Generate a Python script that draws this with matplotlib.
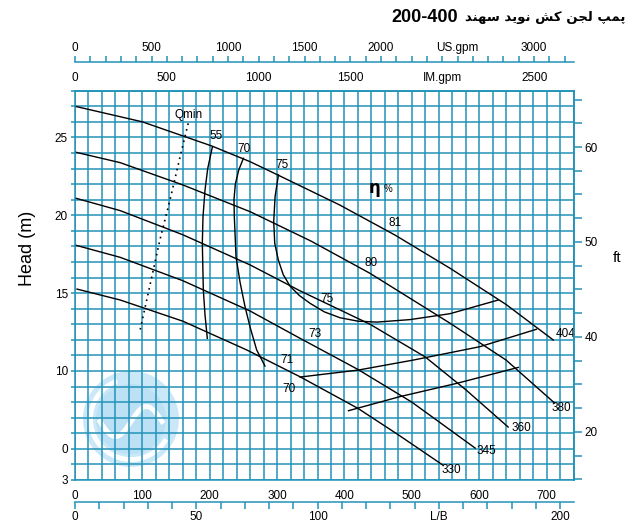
import numpy as np
import matplotlib
matplotlib.use("Agg")
import matplotlib.pyplot as plt
from matplotlib.patches import Circle, Arc

plt.rcParams['font.family'] = ['Liberation Sans', 'DejaVu Sans']

# ---- data (flow in m3/h, head in m) ----
q404 = [0, 100, 203, 260, 301, 393, 475, 557, 640, 710]
h404 = [27.0, 26.0, 24.45, 23.44, 22.59, 20.66, 18.73, 16.59, 14.27, 11.99]
q380 = [0, 67, 160, 260, 350, 438, 557, 640, 712]
h380 = [24.06, 23.38, 21.95, 20.23, 18.35, 16.27, 13.06, 10.7, 7.94]
q360 = [0, 67, 160, 260, 334, 438, 520, 580, 643]
h360 = [21.11, 20.3, 18.75, 16.81, 15.15, 13.0, 10.9, 8.8, 6.40]
q345 = [0, 67, 160, 260, 334, 420, 500, 594]
h345 = [18.09, 17.3, 15.8, 13.85, 12.1, 10.1, 8.0, 5.05]
q330 = [3, 67, 160, 255, 334, 420, 480, 546]
h330 = [15.26, 14.56, 13.2, 11.35, 9.63, 7.6, 5.9, 3.96]
heads = [(q404, h404, '404'), (q380, h380, '380'), (q360, h360, '360'),
         (q345, h345, '345'), (q330, h330, '330')]
head_lbl = {'404': (728, 12.35), '380': (722, 7.6), '360': (663, 6.36),
            '345': (611, 4.88), '330': (559, 3.64)}

# efficiency lines
e55_q = [204, 197, 193, 190, 189, 190.5, 193, 196.4]
e55_h = [24.40, 23.0, 21.62, 19.9, 18.20, 15.20, 13.6, 12.10]
e55r_q = [406, 482, 567, 658]
e55r_h = [7.45, 8.35, 9.21, 10.23]
e70_q = [250, 243, 238, 236, 236.5, 239, 245, 252.4, 260, 269.7, 282]
e70_h = [23.66, 22.9, 22.0, 21.0, 19.91, 17.34, 15.7, 14.13, 12.8, 11.35, 10.32]
e70r_q = [334, 420.5, 502, 601, 685]
e70r_h = [9.61, 10.06, 10.70, 11.56, 12.68]
e75_q = [302, 297, 295, 296.5, 301.8, 309, 319.2, 333, 348.8, 370, 393.4, 420, 447.9, 497.3, 556.7, 628.4]
e75_h = [22.59, 21.2, 19.6, 18.2, 17.13, 16.2, 15.45, 14.85, 14.35, 13.8, 13.42, 13.2, 13.14, 13.3, 13.68, 14.56]
qmin_q = [168, 156, 141, 126, 114, 96.5]
qmin_h = [25.9, 23.76, 20.98, 18.41, 16.05, 12.6]

eff_labels = [('55', 209, 25.1), ('70', 251, 24.24), ('75', 308, 23.23),
              ('81', 475, 19.52), ('80', 440, 16.95), ('75', 374, 14.62),
              ('73', 356, 12.37), ('71', 315, 10.7), ('70', 318, 8.84)]

x_ticks = [0, 100, 200, 300, 400, 500, 600, 700]
y_ticks = [3, 5, 10, 15, 20, 25]
y_tick_text = ['3', '0', '10', '15', '20', '25']
ft_ticks = [20, 40, 60, 80]
ft_text = ['20', '40', '50', '60']
us_ticks = [0, 500, 1000, 1500, 2000, 2500, 3000]
us_text = ['0', '500', '1000', '1500', '2000', 'US.gpm', '3000']
im_ticks = [0, 500, 1000, 1500, 2000, 2500]
im_text = ['0', '500', '1000', '1500', 'IM.gpm', '2500']
ls_ticks = [0, 50, 100, 150, 200]
ls_text = ['0', '50', '100', 'L/B', '200']

GRID = '#2393b8'
W, H = 634, 526

fig = plt.figure(figsize=(W / 100, H / 100), dpi=100)

# watermark logo (behind the grid)
lax = fig.add_axes([81 / W, 1 - 469 / H, 100 / W, 100 / H])
lax.set_xlim(-1, 1); lax.set_ylim(-1, 1); lax.set_aspect('equal'); lax.axis('off')
lax.set_zorder(-1)
lax.add_patch(Circle((0, 0), 0.96, color='#cbe8f8', lw=0))
lax.add_patch(Circle((0, 0), 0.70, color='#bce1f5', lw=0))
lax.add_patch(Arc((0, 0), 1.62, 1.62, theta1=110, theta2=330, color='white', lw=3.5))
t = np.linspace(-0.62, 0.62, 60)
lax.plot(t, 0.3 * np.sin(np.pi * t / 0.62) - 0.05, color='white', lw=3.5)

ax = fig.add_axes([75 / W, 1 - 480 / H, 498.5 / W, 389.3 / H])
ax.set_facecolor('none')
ax.set_xlim(0, 740)
ax.set_ylim(3, 28)
ax.set_axisbelow(True)
ax.set_xticks(x_ticks)
ax.set_xticks(np.arange(0, 741, 20), minor=True)
ax.set_yticks(y_ticks)
ax.set_yticklabels(y_tick_text)
ax.set_yticks(np.arange(3, 29, 1), minor=True)
ax.grid(True, which='both', color=GRID, lw=1.1)
ax.tick_params(axis='x', which='both', length=0, pad=7, labelsize=8.5)
ax.tick_params(axis='y', which='both', length=3, color=GRID, width=1.1, labelsize=8.5, pad=2)
for s in ax.spines.values():
    s.set_color(GRID); s.set_linewidth(1.1)

for q, h, name in heads:
    ax.plot(q, h, color='black', lw=1.0)
    lx, ly = head_lbl[name]
    ax.text(lx, ly, name, fontsize=8.5, ha='center', va='center')

for q, h in [(e55_q, e55_h), (e55r_q, e55r_h), (e70_q, e70_h), (e70r_q, e70r_h), (e75_q, e75_h)]:
    ax.plot(q, h, color='black', lw=1.0)
ax.plot(qmin_q, qmin_h, color='black', lw=1.2, ls=(0, (1, 2.5)))
ax.text(168, 26.44, 'Qmin', fontsize=8.5, ha='center', va='center')
for s, q, h in eff_labels:
    ax.text(q, h, s, fontsize=8.5, ha='center', va='center')
ax.text(445, 21.73, 'η', fontsize=12, fontweight='bold', ha='center', va='center',
        family=['DejaVu Sans'])
ax.text(465, 21.67, '%', fontsize=7, ha='center', va='center')

# IM gpm on the top spine
im = ax.secondary_xaxis('top', functions=(lambda q: q * 3.6662, lambda g: g / 3.6662))
im.set_xticks(im_ticks)
im.set_xticklabels(im_text)
im.tick_params(length=0, pad=5, labelsize=8.5)
for s in im.spines.values():
    s.set_color(GRID); s.set_linewidth(1.1)

# US gpm, separate line above
us = ax.secondary_xaxis(1 + 29 / 389.3, functions=(lambda q: q * 4.4029, lambda g: g / 4.4029))
us.set_xticks(np.arange(0, 3300, 100), minor=True)
us.set_xticks(us_ticks)
us.set_xticklabels(us_text)
us.tick_params(which='both', length=4, color=GRID, width=1.1, pad=1.5, labelsize=8.5)
for s in us.spines.values():
    s.set_color(GRID); s.set_linewidth(1.1)

# L/s below
ls = ax.secondary_xaxis(-21.7 / 389.3, functions=(lambda q: q / 3.6, lambda l: l * 3.6))
ls.set_xticks(np.arange(0, 206, 10), minor=True)
ls.set_xticks(ls_ticks)
ls.set_xticklabels(ls_text)
ls.tick_params(which='both', length=5, color=GRID, width=1.1, pad=1.5, labelsize=8.5)
for s in ls.spines.values():
    s.set_color(GRID); s.set_linewidth(1.1)

# ft on the right
ax2 = ax.twinx()
ax2.set_ylim(3 / 0.3048, 28 / 0.3048)
ax2.set_yticks(np.arange(10, 92, 5), minor=True)
ax2.set_yticks(ft_ticks)
ax2.set_yticklabels(ft_text)
ax2.tick_params(which='both', length=6, color=GRID, width=1.1, labelsize=8.5, pad=2)
for s in ax2.spines.values():
    s.set_visible(False)
ax2.spines['right'].set_visible(True)
ax2.spines['right'].set_color(GRID)
ax2.spines['right'].set_linewidth(1.1)

fig.text(27 / W, 1 - 248 / H, 'Head (m)', rotation=90, fontsize=13, ha='center', va='center')
fig.text(617 / W, 1 - 258 / H, 'ft', fontsize=11, ha='center', va='center')

# title: Persian written in visual order with presentation forms
words = ['\uFB58\uFEE4\uFB57', '\uFEDF\uFEA0\uFEE6', '\uFB90\uFEB6',
         '\uFEE7\uFEEE\uFBFE\uFEAA', '\uFEB3\uFEEC\uFEE8\uFEAA']
persian = ' '.join(words)[::-1]
pt = fig.text(625 / W, 1 - 18 / H, persian, fontsize=9.5, fontweight='bold',
              ha='right', va='center', family=['DejaVu Sans'])
fig.canvas.draw()
x_left = pt.get_window_extent().x0
fig.text((x_left - 7) / W, 1 - 18 / H, '200-400', fontsize=13, fontweight='bold',
         ha='right', va='center')

fig.savefig('out.png', dpi=100)
